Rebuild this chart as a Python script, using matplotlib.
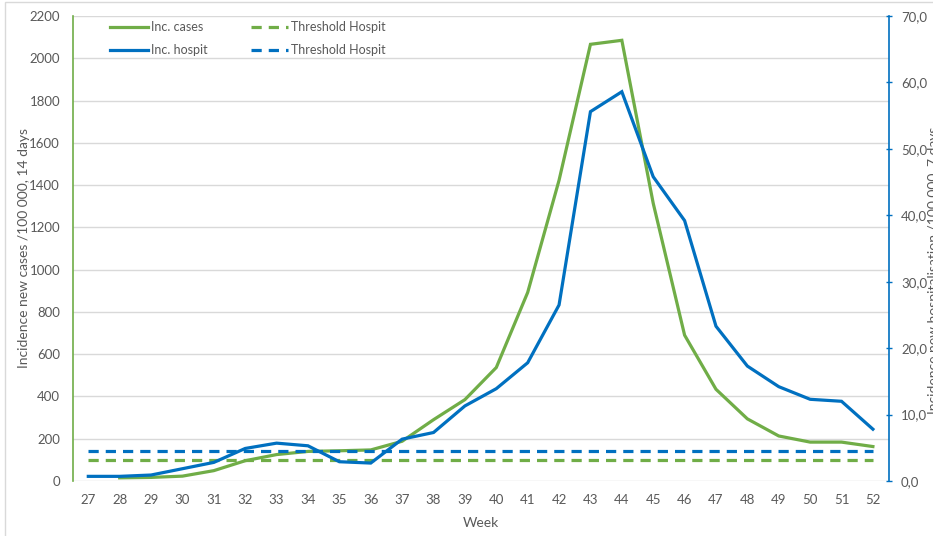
import matplotlib
matplotlib.use('Agg')
import matplotlib.pyplot as plt
from matplotlib.patches import Rectangle
from matplotlib.ticker import FuncFormatter

# data
weeks = list(range(27, 53))
weeks_cases = list(range(28, 53))
inc_cases = [15, 17, 23, 49, 96, 125, 140, 143, 147, 188, 290, 385,
             537, 892, 1423, 2066, 2085, 1314, 690, 434, 294, 213, 184,
             184, 163]
inc_hospit = [0.7, 0.7, 0.9, 1.85, 2.8, 4.9, 5.7, 5.3, 2.9, 2.7, 6.3,
              7.3, 11.3, 13.9, 17.8, 26.5, 55.6, 58.6, 45.8, 39.2, 23.3,
              17.3, 14.2, 12.3, 12.0, 7.8]
threshold_cases = 100
threshold_hospit = 4.5

green = '#70AD47'
blue = '#0070C0'
grey = '#595959'

plt.rcParams['font.family'] = ['Lato', 'DejaVu Sans']

W, H = 933, 536
fig = plt.figure(figsize=(W / 100, H / 100), dpi=100)
fig.patches.append(Rectangle((5 / W, -0.1), 1.2, 1.1 - 2 / H, transform=fig.transFigure,
                             fill=False, edgecolor='#D9D9D9', linewidth=1))

ax = fig.add_axes([72.6 / W, 1 - 481 / H, 816 / W, 465 / H])
ax2 = ax.twinx()

l1, = ax.plot(weeks_cases, inc_cases, color=green, lw=2.3, solid_joinstyle='miter')
l3, = ax.plot(weeks, [threshold_cases] * len(weeks), color=green, lw=2.3,
              dashes=(3.2, 2.2))
l2, = ax2.plot(weeks, inc_hospit, color=blue, lw=2.3, solid_joinstyle='miter')
l4, = ax2.plot(weeks, [threshold_hospit] * len(weeks), color=blue, lw=2.3,
               dashes=(3.2, 2.2))

ax.set_xlim(26.5, 52.5)
ax.set_ylim(0, 2200)
ax2.set_ylim(0, 70)
ax.set_xticks(weeks)
ax.set_yticks(range(0, 2201, 200))
ax2.set_yticks(range(0, 71, 10))
ax2.yaxis.set_major_formatter(FuncFormatter(lambda v, p: f'{v:.1f}'.replace('.', ',')))

ax.grid(axis='y', color='#D9D9D9', lw=1)
ax.set_axisbelow(True)
for s in ['top', 'right', 'bottom']:
    ax.spines[s].set_visible(False)
for s in ['top', 'left', 'bottom']:
    ax2.spines[s].set_visible(False)
ax.spines['left'].set_color(green)
ax.spines['left'].set_linewidth(1.2)
ax2.spines['right'].set_color(blue)
ax2.spines['right'].set_linewidth(1.2)

ax.tick_params(axis='y', length=0, pad=9, labelsize=9.5, labelcolor=grey)
ax.tick_params(axis='x', length=0, pad=9, labelsize=9.5, labelcolor=grey)
ax2.tick_params(axis='y', length=4, width=1, color=blue, direction='inout', pad=7,
                labelsize=9.5, labelcolor=grey)

# axis titles placed by hand, like the excel layout
fig.text(24 / W, 1 - 248 / H, 'Incidence new cases /100 000, 14 days',
         rotation=90, fontsize=10, color=grey, ha='center', va='center')
ax.set_xlabel('Week', fontsize=10, color=grey, labelpad=8)
fig.text(934 / W, 1 - 270 / H, 'Incidence new hospitalisation /100 000, 7 days',
         rotation=90, fontsize=10, color=grey, ha='center', va='center')

leg = ax.legend([l1, l2, l3, l4],
                ['Inc. cases', 'Inc. hospit', 'Threshold Hospit', 'Threshold Hospit'],
                ncol=2, loc='upper left', bbox_to_anchor=(0.0325, 1.013),
                frameon=False, fontsize=9, labelcolor=grey, handlelength=3.0,
                handletextpad=0.25, columnspacing=3.45, labelspacing=0.9)

fig.savefig('out.png', dpi=100)
